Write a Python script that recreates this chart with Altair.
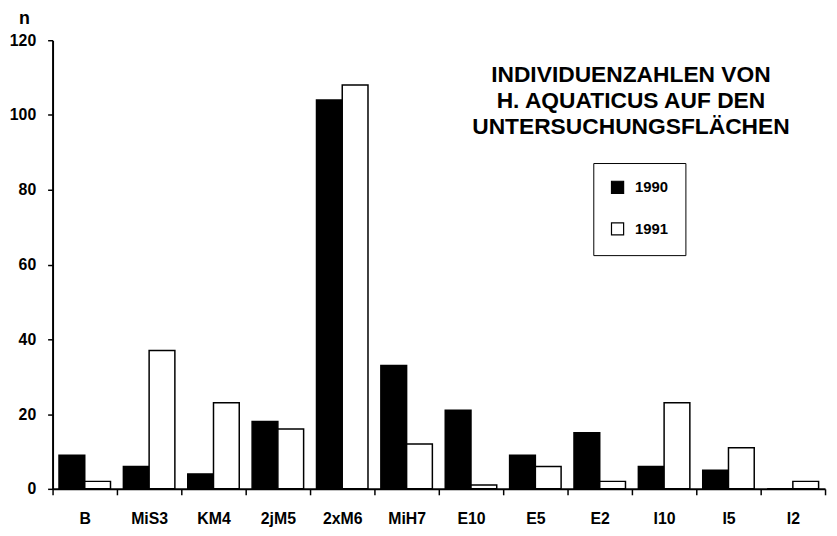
import altair as alt
import pandas as pd

categories = ["B", "MiS3", "KM4", "2jM5", "2xM6", "MiH7", "E10", "E5", "E2", "I10", "I5", "I2"]
years = ["1990", "1991"]
n_1990 = [9, 6, 4, 18, 104, 33, 21, 9, 15, 6, 5, 0]
n_1991 = [2, 37, 23, 16, 108, 12, 1, 6, 2, 23, 11, 2]
y_ticks = [0, 20, 40, 60, 80, 100, 120]
title_lines = ["INDIVIDUENZAHLEN VON", "H. AQUATICUS AUF DEN", "UNTERSUCHUNGSFLÄCHEN"]

rows = []
for c, a, b in zip(categories, n_1990, n_1991):
    rows.append({"site": c, "year": "1990", "n": a})
    rows.append({"site": c, "year": "1991", "n": b})
df = pd.DataFrame(rows)

FONT = "Liberation Sans"

bars = alt.Chart(df).mark_bar(stroke="black", strokeWidth=1.5, opacity=1).encode(
    x=alt.X(
        "site:N", sort=categories,
        scale=alt.Scale(paddingInner=0, paddingOuter=0),
        axis=alt.Axis(
            title=None, labelAngle=0, tickBand="extent", tickSize=6, tickWidth=1.5,
            tickColor="black", domainColor="black", domainWidth=2,
            labelFont=FONT, labelFontSize=16, labelFontWeight="bold", labelColor="black",
            labelPadding=16, labelBaseline="top",
        ),
    ),
    xOffset=alt.XOffset("year:N", sort=years, scale=alt.Scale(paddingInner=0, paddingOuter=0.25)),
    y=alt.Y(
        "n:Q", scale=alt.Scale(domain=[0, 120], nice=False),
        axis=alt.Axis(
            values=y_ticks, grid=False, title="n", titleAngle=0, titleX=-29, titleY=-17,
            titleAlign="center", titleBaseline="alphabetic", titleFont=FONT, titleFontSize=18,
            titleFontWeight="bold", titleColor="black",
            tickSize=5, tickWidth=1.5, tickColor="black", domainColor="black", domainWidth=2,
            labelFont=FONT, labelFontSize=16, labelFontWeight="bold", labelColor="black",
            labelPadding=12,
        ),
    ),
    color=alt.Color(
        "year:N", sort=years,
        scale=alt.Scale(domain=years, range=["black", "white"]),
        legend=alt.Legend(
            title=None, orient="none", legendX=546, legendY=124,
            strokeColor="black", padding=17, fillColor="white",
            symbolType="square", symbolSize=150, symbolStrokeColor="black",
            symbolStrokeWidth=1.2, symbolOpacity=1,
            labelFont=FONT, labelFontSize=15, labelFontWeight="bold", labelColor="black",
            labelOffset=10, rowPadding=23,
        ),
    ),
)

title_df = pd.DataFrame({"k": [0]})
title = alt.Chart(title_df).mark_text(
    text=title_lines, font=FONT, fontSize=23, fontWeight="bold", color="black",
    align="center", baseline="alphabetic", lineHeight=26.5,
).encode(x=alt.value(584), y=alt.value(42))

chart = alt.layer(bars, title).properties(
    width=780, height=453,
    padding={"left": 45, "top": 30, "right": 4, "bottom": 37},
    autosize="none",
).configure_view(stroke=None)

chart.save("out.html", embed_options={"renderer": "svg", "actions": False})
